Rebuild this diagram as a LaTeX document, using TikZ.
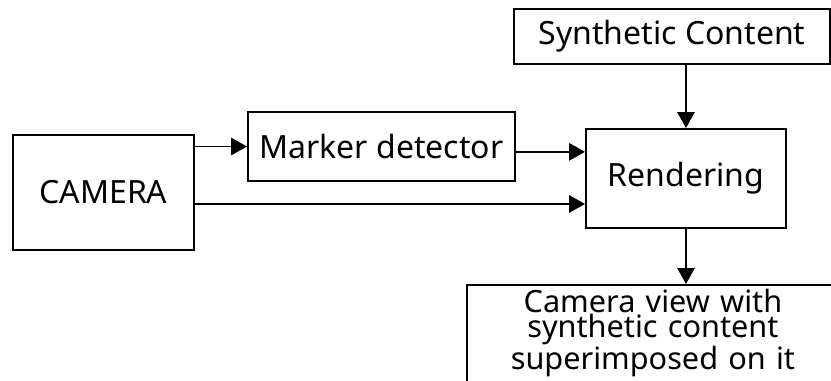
\documentclass[tikz,border=0pt]{standalone}
\usepackage{fontspec}
\setmainfont{Noto Sans}
\usetikzlibrary{arrows.meta,positioning}

\tikzset{
  block/.style={draw, line width=1.4pt, rectangle, align=center,
    font=\fontsize{24}{17}\selectfont},
  arr/.style={line width=1.4pt, -{Triangle[length=12pt,width=13pt]}},
}

\begin{document}
\begin{tikzpicture}[x=0.75pt, y=-0.75pt]
    \useasboundingbox (0,0) rectangle (831,380);
    \clip (0,0) rectangle (831,380);

    % Blocks
    \node[block, minimum width=135.75pt, minimum height=86.25pt] (camera) at (103.5,192.5) {CAMERA};
    \node[block, minimum width=200.25pt, minimum height=51.75pt] (marker) at (381.5,146.5) {Marker detector};
    \node[block, minimum width=237pt, minimum height=41.25pt] (synth) at (672,36.5) {Synthetic Content};
    \node[block, minimum width=150pt, minimum height=74.25pt] (render) at (686,178.5) {Rendering};

    % Output block runs off the page
    \node[block, font=\fontsize{23}{17}\selectfont, anchor=north west, text width=279pt,
          inner xsep=0pt, inner ysep=3pt, text depth=60pt] (view) at (466,284)
        {Camera view with\\synthetic content\\superimposed on it};

    % Connectors
    \coordinate (camout) at ([yshift=-8.6pt]camera.east);
    \draw[arr] (camera.east |- marker.west) -- (marker.west);
    \draw[arr] (camout) -- (camout -| render.west);
    \draw[arr] ([yshift=-4pt]marker.east) -- ([yshift=-4pt]marker.east -| render.west);
    \draw[arr] (render.north |- synth.south) -- (render.north);
    \draw[arr] (render.south) -- (render.south |- view.north);
\end{tikzpicture}
\end{document}
